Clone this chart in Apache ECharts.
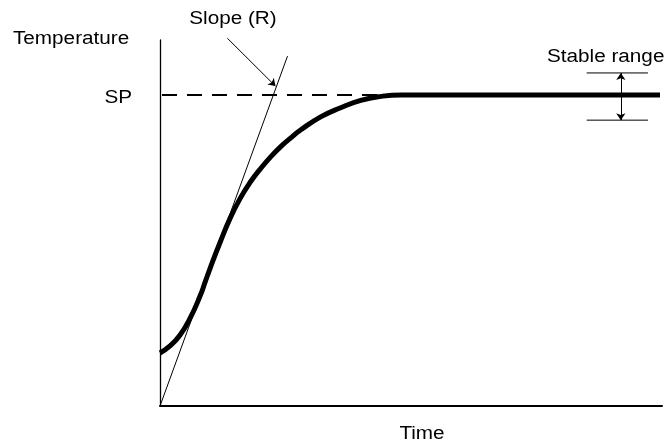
<!DOCTYPE html>
<html>
<head>
<meta charset="utf-8">
<script src="https://cdn.jsdelivr.net/npm/echarts@6/dist/echarts.min.js"></script>
<style>
  html, body { margin: 0; background: #fff; }
  #chart { width: 670px; height: 443px; }
</style>
</head>
<body>
<div id="chart"></div>
<script>
// response curve (time %, temperature %)
const timeValues = [0, 2, 4, 6, 8, 9, 10, 12, 14, 16, 18, 20, 22, 24, 26, 28, 32, 36, 40, 44, 48, 52, 60, 80, 99.6]
const tempValues = [14.5, 16.4, 19.4, 24.0, 30.1, 33.9, 37.7, 44.8, 51.4, 56.8, 61.2, 64.8, 68.0, 70.8, 73.2, 75.4, 79.0, 81.5, 83.5, 84.6, 85, 85, 85, 85, 85]
const setPoint = 85
const spLineX = [0.4, 45]
const tangentX = [0, 25.4]
const tangentY = [0, 95.6]
const slopeArrowX = [13.4, 23]
const slopeArrowY = [100.5, 87.4]
const stableLow = 78.1
const stableHigh = 91
const stableBarX = [85, 97.2]
const stableArrowX = 91.8

const chart = echarts.init(document.getElementById('chart'))
const font = '18px Liberation Sans, Arial, sans-serif'

function label(text, x, y, align) {
  return {
    type: 'text', x, y, scaleX: 1.15,
    style: { text, font, fill: '#000', align, verticalAlign: 'middle' }
  }
}

chart.setOption({
  animation: false,
  grid: { left: 160, right: 8, top: 40, bottom: 37 },
  xAxis: {
    type: 'value',
    min: 0,
    max: 100,
    axisLine: { show: true, onZero: false, lineStyle: { color: '#000', width: 2 } },
    axisTick: { show: false },
    axisLabel: { show: false },
    splitLine: { show: false }
  },
  yAxis: {
    type: 'value',
    min: 0,
    max: 100,
    axisLine: { show: true, onZero: false, lineStyle: { color: '#000', width: 1.3 } },
    axisTick: { show: false },
    axisLabel: { show: false },
    splitLine: { show: false }
  },
  graphic: [
    label('Temperature', 13, 39, 'left'),
    label('SP', 132, 98, 'right'),
    label('Slope (R)', 233, 19, 'center'),
    label('Stable range', 547, 57, 'left'),
    label('Time', 422, 434, 'center')
  ],
  series: [
    {
      type: 'line',
      data: spLineX.map(x => [x, setPoint]),
      symbol: 'none',
      lineStyle: { color: '#000', width: 2, type: [15, 10] }
    },
    {
      type: 'line',
      data: tangentX.map((x, i) => [x, tangentY[i]]),
      symbol: 'none',
      lineStyle: { color: '#000', width: 1 }
    },
    {
      type: 'line',
      data: timeValues.map((x, i) => [x, tempValues[i]]),
      smooth: 0.5,
      symbol: 'none',
      lineStyle: { color: '#000', width: 5 }
    },
    {
      type: 'line',
      data: stableBarX.map(x => [x, stableHigh]),
      symbol: 'none',
      lineStyle: { color: '#000', width: 1 }
    },
    {
      type: 'line',
      data: stableBarX.map(x => [x, stableLow]),
      symbol: 'none',
      lineStyle: { color: '#000', width: 1 }
    },
    {
      type: 'lines',
      coordinateSystem: 'cartesian2d',
      clip: false,
      symbol: ['none', 'arrow'],
      symbolSize: 7,
      lineStyle: { color: '#000', width: 1, opacity: 1 },
      data: [
        { coords: [[slopeArrowX[0], slopeArrowY[0]], [slopeArrowX[1], slopeArrowY[1]]] },
        { coords: [[stableArrowX, setPoint], [stableArrowX, stableHigh]] },
        { coords: [[stableArrowX, setPoint], [stableArrowX, stableLow]] }
      ]
    }
  ]
})
</script>
</body>
</html>
